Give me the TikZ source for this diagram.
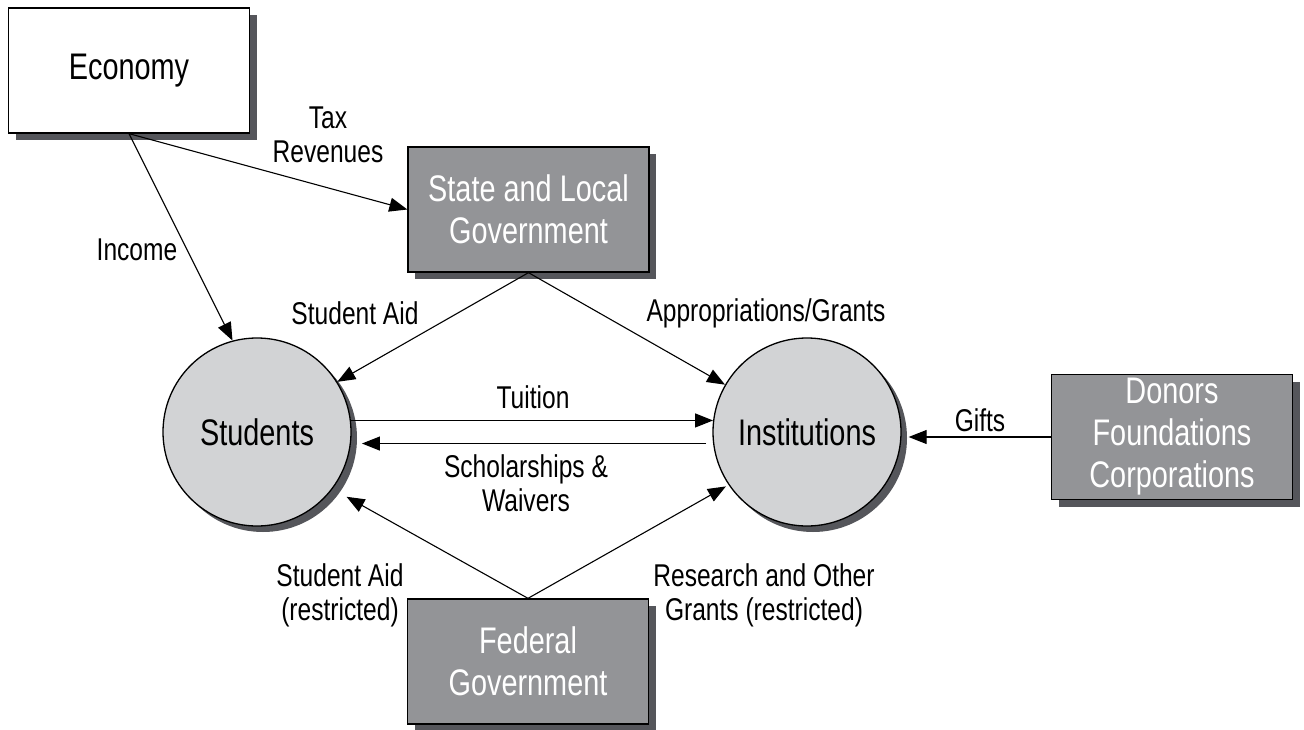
\documentclass[tikz,border=0pt]{standalone}
\usepackage{fontspec}
\setmainfont{Liberation Sans}[FakeStretch=0.78]
\usetikzlibrary{arrows.meta,shadows,calc}
\definecolor{boxgray}{RGB}{147,148,151}
\definecolor{shadowgray}{RGB}{85,86,91}
\definecolor{circgray}{RGB}{210,211,213}
\begin{document}
\begin{tikzpicture}[x=1pt,y=-1pt,
  shadowed/.style={general shadow={fill=shadowgray, shadow xshift=7pt, shadow yshift=-7pt}},
  boxnode/.style={shadowed, draw=black, line width=1.3pt, fill=boxgray, text=white,
    minimum width=241pt, minimum height=125pt, inner sep=0pt, align=center,
    font=\fontsize{37}{42}\selectfont},
  circnode/.style={general shadow={fill=shadowgray, shadow xshift=6pt, shadow yshift=-6pt},
    circle, draw=black, line width=1.3pt, fill=circgray, minimum size=188pt, inner sep=0pt,
    font=\fontsize{37}{42}\selectfont},
  lbl/.style={align=center, inner sep=0pt, font=\fontsize{31.5}{34}\selectfont},
  arr/.style={-{Triangle[length=18pt,width=14pt]}, line width=1.1pt}]
\useasboundingbox (0,0) rectangle (1304,730);

\node[boxnode, fill=white, text=black] (economy) at (129,70.5) {Economy};
\node[boxnode] (state) at (528.5,209.5) {State and Local\\Government};
\node[boxnode] (federal) at (528,661.5) {Federal\\Government};
\node[boxnode] (donors) at (1172,437) {\raisebox{-4pt}{\parbox{230pt}{\centering Donors\\Foundations\\Corporations}}};
\node[circnode] (students) at (257,432) {Students};
\node[circnode] (institutions) at (807,432) {Institutions};

\draw[arr] (economy.south) -- (state.west);
\draw[arr] (economy.south) -- (students.105);
\draw[arr] (state.south) -- (students.32);
\draw[arr] (state.south) -- (institutions.150);
\draw[arr] (students.7) -- (institutions.173);
\draw[arr, shorten >=11pt] ([xshift=-7pt]institutions.187) -- (students.-7);
\draw[arr, shorten >=16pt] (federal.north) -- (students.-37);
\draw[arr, shorten >=3pt] (federal.north) -- (institutions.214);
\draw[arr, shorten >=7pt] (donors.west) -- (donors.west -| institutions.east);

\node[lbl] (taxlbl) at (328,135) {Tax\\Revenues};
\node[lbl] (incomelbl) at (137,250) {Income};
\node[lbl] (aidlbl) at (355,313) {Student Aid};
\node[lbl] (approplbl) at (766,313) {Appropriations/Grants};
\node[lbl] (tuitionlbl) at (533,397) {Tuition};
\node[lbl] (scholbl) at (526,483) {Scholarships \&\\Waivers};
\node[lbl] (giftslbl) at (980,420) {Gifts};
\node[lbl] (fedaidlbl) at (340,595) {Student Aid\\(restricted)};
\node[lbl] (researchlbl) at (764,595) {Research and Other\\Grants (restricted)};
\end{tikzpicture}
\end{document}
